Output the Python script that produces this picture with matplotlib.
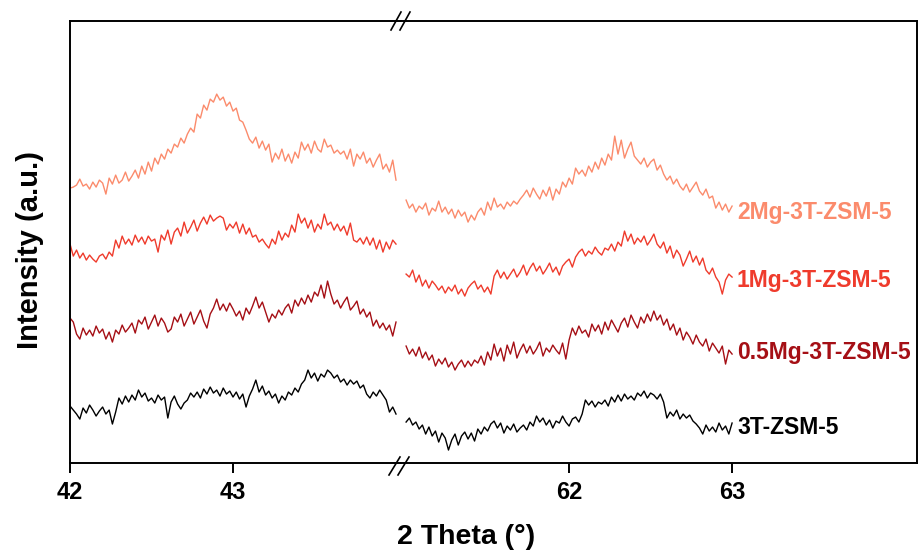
import numpy as np
import matplotlib.pyplot as plt
from matplotlib.lines import Line2D

# 2theta grids for the two windows (step 0.02)
theta_low = np.round(np.arange(42.0, 44.0001, 0.02), 2)
theta_high = np.round(np.arange(61.0, 63.0001, 0.02), 2)

samples = ['2Mg-3T-ZSM-5', '1Mg-3T-ZSM-5', '0.5Mg-3T-ZSM-5', '3T-ZSM-5']
colors = ['#fb8b6c', '#ef3b2c', '#a50f15', '#000000']

# stacked intensities (a.u., offsets included), 42-44 deg window
low_2mg = [292, 293, 295, 301, 294, 296, 291, 298, 293, 300,
           297, 286, 302, 296, 305, 297, 300, 308, 299, 304,
           310, 302, 314, 306, 318, 309, 322, 316, 326, 321,
           331, 327, 336, 333, 342, 337, 346, 352, 348, 366,
           362, 375, 370, 381, 378, 386, 380, 383, 374, 378,
           369, 372, 360, 358, 350, 341, 337, 343, 332, 339,
           330, 336, 318, 327, 321, 331, 319, 326, 317, 328,
           322, 338, 330, 336, 327, 339, 331, 328, 341, 333,
           335, 327, 330, 326, 329, 321, 331, 314, 326, 321,
           328, 317, 322, 313, 320, 326, 311, 316, 308, 320, 300]
low_1mg = [236, 224, 230, 222, 227, 220, 225, 221, 218, 224,
           226, 221, 228, 224, 240, 232, 244, 236, 241, 235,
           245, 238, 243, 236, 244, 239, 241, 228, 245, 240,
           250, 236, 248, 252, 244, 258, 247, 253, 260, 249,
           257, 263, 256, 265, 259, 262, 264, 262, 250, 256,
           252, 258, 247, 256, 246, 252, 243, 245, 238, 241,
           236, 232, 241, 236, 249, 240, 247, 243, 255, 248,
           266, 257, 262, 252, 260, 248, 256, 251, 266, 255,
           258, 250, 256, 249, 254, 245, 257, 240, 238, 242,
           236, 243, 235, 242, 231, 240, 228, 238, 231, 240, 236]
low_05mg = [162, 158, 146, 141, 152, 145, 150, 144, 154, 147,
            151, 141, 148, 138, 150, 146, 155, 148, 152, 157,
            147, 160, 156, 163, 151, 158, 165, 154, 162, 157,
            148, 151, 163, 158, 166, 154, 161, 168, 156, 163,
            170, 159, 152, 166, 172, 181, 170, 176, 169, 177,
            171, 164, 169, 160, 172, 166, 174, 183, 172, 178,
            168, 158, 166, 162, 170, 165, 172, 176, 167, 180,
            174, 182, 176, 185, 178, 188, 184, 195, 182, 199,
            186, 176, 180, 172, 178, 183, 170, 174, 179, 166,
            171, 163, 168, 154, 160, 152, 157, 150, 155, 144, 158]
low_3t = [74, 70, 66, 61, 72, 67, 75, 70, 64, 69,
          73, 66, 70, 56, 68, 82, 76, 84, 78, 85,
          80, 90, 83, 87, 79, 82, 77, 85, 80, 83,
          62, 78, 84, 76, 71, 77, 80, 87, 83, 88,
          82, 91, 86, 93, 87, 90, 84, 92, 86, 89,
          83, 88, 81, 86, 73, 84, 91, 100, 88, 94,
          85, 89, 82, 86, 77, 84, 80, 88, 85, 92,
          88, 96, 100, 110, 102, 107, 99, 106, 103, 110,
          107, 102, 105, 98, 101, 95, 100, 96, 99, 92,
          95, 86, 82, 88, 84, 90, 85, 80, 68, 73, 66]

# 61-63 deg window
high_2mg = [280, 272, 276, 268, 274, 271, 277, 265, 272, 269,
            279, 268, 273, 266, 271, 262, 270, 264, 268, 258,
            265, 260, 268, 272, 265, 278, 270, 282, 273, 276,
            271, 278, 274, 279, 276, 281, 285, 290, 283, 292,
            286, 281, 290, 284, 293, 280, 291, 286, 298, 293,
            302, 296, 312, 306, 310, 304, 314, 308, 318, 311,
            322, 315, 326, 320, 344, 326, 340, 322, 331, 338,
            324, 320, 316, 322, 313, 318, 321, 310, 315, 306,
            300, 304, 296, 301, 294, 290, 296, 288, 293, 298,
            289, 285, 291, 282, 284, 272, 278, 270, 276, 268, 274]
high_1mg = [206, 203, 210, 198, 205, 194, 200, 192, 199, 195,
            190, 194, 187, 193, 189, 195, 186, 191, 184, 192,
            196, 199, 191, 195, 188, 193, 186, 204, 210, 202,
            208, 201, 206, 211, 203, 208, 215, 205, 212, 217,
            209, 214, 206, 211, 217, 208, 213, 205, 214, 218,
            221, 213, 223, 228, 231, 224, 229, 226, 233, 228,
            225, 232, 230, 236, 229, 238, 234, 249, 239, 246,
            236, 242, 238, 244, 235, 240, 246, 236, 232, 238,
            227, 234, 222, 230, 225, 214, 221, 229, 218, 224,
            215, 222, 210, 206, 212, 203, 198, 186, 200, 206, 203]
high_05mg = [134, 126, 131, 124, 133, 122, 128, 120, 125, 114,
             121, 116, 122, 113, 118, 110, 116, 120, 113, 119,
             114, 120, 117, 124, 115, 128, 120, 136, 124, 132,
             119, 135, 126, 138, 122, 130, 136, 127, 134, 126,
             131, 138, 124, 132, 128, 135, 130, 126, 137, 121,
             140, 152, 145, 154, 147, 150, 143, 156, 149, 155,
             146, 158, 150, 160, 154, 148, 157, 162, 153, 165,
             158, 152, 163, 157, 166, 159, 169, 160, 165, 155,
             161, 150, 156, 145, 152, 140, 148, 143, 136, 145,
             138, 134, 141, 129, 137, 132, 127, 134, 116, 130, 126]
high_3t = [58, 62, 55, 58, 51, 55, 46, 53, 44, 49,
           38, 47, 42, 30, 40, 46, 35, 44, 48, 41,
           47, 39, 51, 46, 53, 49, 56, 59, 52, 57,
           47, 54, 50, 56, 48, 52, 55, 50, 58, 54,
           64, 58, 62, 55, 60, 52, 59, 57, 64, 58,
           54, 61, 63, 58, 66, 80, 75, 79, 73, 78,
           76, 80, 74, 83, 78, 85, 79, 86, 81, 84,
           80, 87, 84, 89, 82, 87, 85, 81, 86, 78,
           62, 68, 64, 70, 61, 66, 62, 65, 59, 56,
           52, 46, 55, 49, 53, 48, 57, 50, 54, 46, 57]

low_sets = [low_2mg, low_1mg, low_05mg, low_3t]
high_sets = [high_2mg, high_1mg, high_05mg, high_3t]
label_y = [268, 200, 128, 53]

plt.rcParams['font.family'] = ['Liberation Sans', 'DejaVu Sans']
plt.rcParams['font.weight'] = 'bold'

fig = plt.figure(figsize=(9.19, 5.53), dpi=100)
ax1 = fig.add_axes([0.0762, 0.1627, 0.3602, 0.800])
ax2 = fig.add_axes([0.4364, 0.1627, 0.5615, 0.800])

for ys, c in zip(low_sets, colors):
    ax1.plot(theta_low, ys, color=c, lw=1.0)
for ys, c, name, ly in zip(high_sets, colors, samples, label_y):
    ax2.plot(theta_high, ys, color=c, lw=1.0)
    ax2.text(63.03, ly, name, color=c, fontsize=16.5, fontweight='bold',
             va='center', ha='left')

ax1.set_xlim(42, 44.031)
ax2.set_xlim(60.969, 64.135)
for ax in (ax1, ax2):
    ax.set_ylim(17, 459.5)
    ax.set_yticks([])
    for s in ax.spines.values():
        s.set_linewidth(1.4)
    ax.tick_params(axis='x', direction='out', length=7, width=1.4, pad=6)
ax1.spines['right'].set_visible(False)
ax2.spines['left'].set_visible(False)
ax1.set_xticks([42, 43])
ax2.set_xticks([62, 63])
ax1.set_xticklabels(['42', '43'], fontsize=17, fontweight='bold')
ax2.set_xticklabels(['62', '63'], fontsize=17, fontweight='bold')

# axis-break marks
for x0, y0, x1, y1 in [(391, 30, 401, 12), (400, 30, 410, 12),
                       (389, 475, 400, 457), (398, 475, 409, 457)]:
    fig.add_artist(Line2D([x0 / 919, x1 / 919], [1 - y0 / 553, 1 - y1 / 553],
                          transform=fig.transFigure, color='k', lw=1.2))

fig.text(466 / 919, 1 - 537 / 553, '2 Theta (°)', ha='center', va='center',
         fontsize=20.5, fontweight='bold')
fig.text(30 / 919, 1 - 250 / 553, 'Intensity (a.u.)', ha='center', va='center',
         rotation=90, fontsize=21, fontweight='bold')

fig.savefig('out.png', dpi=100)
